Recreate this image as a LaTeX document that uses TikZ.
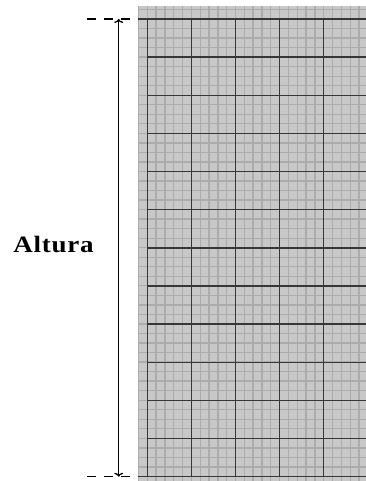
\documentclass[tikz,border=0pt]{standalone}
\usepackage{fontspec}
\newfontface\alturafont[LetterSpace=3,FakeStretch=1.15]{Liberation Serif Bold}
\usetikzlibrary{arrows.meta}
\definecolor{papel}{RGB}{200,200,200}
\definecolor{fino}{RGB}{172,172,172}
\definecolor{grosso}{RGB}{55,55,55}
\tikzset{
  minor/.style={draw=fino,line width=1.3pt},
  major/.style={draw=grosso,line width=1.5pt},
  guia/.style={draw=black,line width=1.2pt,dash pattern=on 8.5pt off 8.5pt},
  cota/.style={draw=black,line width=1.3pt,{To[length=4pt,width=9pt]}-{To[length=4pt,width=9pt]}},
}
\begin{document}
\begin{tikzpicture}[x=1pt,y=-1pt]
\useasboundingbox (0,0) rectangle (366,481);
% folha quadriculada
\fill[papel] (138,6) rectangle (366,481);
\begin{scope}
\clip (138,6) rectangle (366,481);
\foreach \k in {-1,...,25}
  \draw[minor] ({147.3+8.82*\k},6) -- ({147.3+8.82*\k},481);
\foreach \k in {-2,...,49}
  \draw[minor] (138,{19+9.53*\k}) -- (366,{19+9.53*\k});
\end{scope}
\foreach \i in {0,...,4}
  \draw[major] ({147.3+44.1*\i},19) -- ({147.3+44.1*\i},476.7);
\foreach \j in {1,...,11}
  \draw[major] (147.3,{19+38.14*\j}) -- (366,{19+38.14*\j});
\draw[major] (138,19) -- (366,19);
\draw[major] (138,476.7) -- (366,476.7);
% cota da altura
\coordinate (topo) at (118.7,19);
\coordinate (base) at (118.7,476.7);
\draw[guia] (87,19) -- (138,19);
\draw[guia] (87,476.7) -- (138,476.7);
\draw[cota] (topo) -- (base);
\node[anchor=base,inner sep=0pt,font=\alturafont\fontsize{23.5}{28}\selectfont] (altura) at (53.5,252.3) {Altura};
\end{tikzpicture}
\end{document}
